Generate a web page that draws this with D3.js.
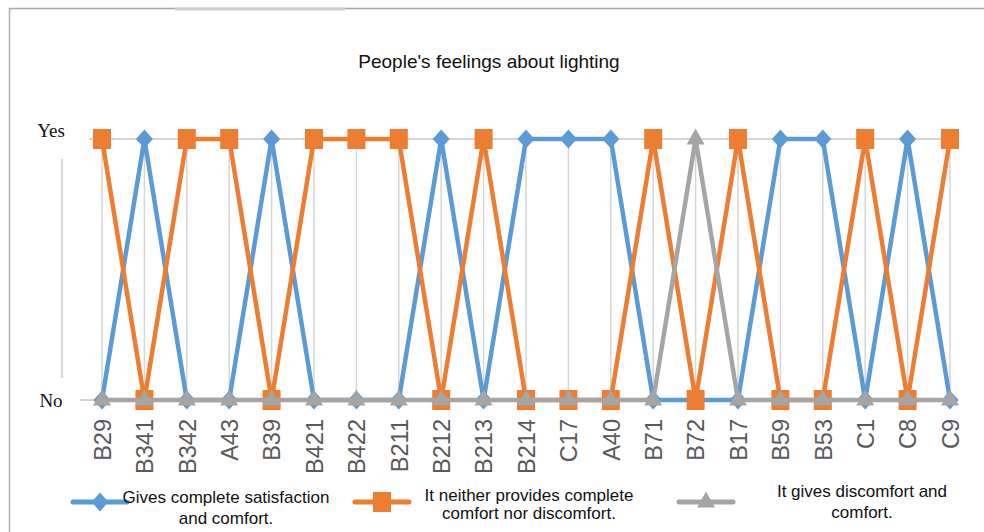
<!DOCTYPE html>
<html>
<head>
<meta charset="utf-8">
<script src="https://cdn.jsdelivr.net/npm/d3@7/dist/d3.min.js"></script>
<style>
  html, body { margin: 0; padding: 0; background: #fff; }
  svg { display: block; }
</style>
</head>
<body>
<svg id="chart" width="984" height="532"></svg>
<script>
// Lighting survey: one answer per location (1 = Yes, 0 = No)
const categories = ["B29","B341","B342","A43","B39","B421","B422","B211","B212","B213","B214","C17","A40","B71","B72","B17","B59","B53","C1","C8","C9"];
const satisfied  = [0,1,0,0,1,0,0,0,1,0,1,1,1,0,0,0,1,1,0,1,0];
const neutral    = [1,0,1,1,0,1,1,1,0,1,0,0,0,1,0,1,0,0,1,0,1];
const discomfort = [0,0,0,0,0,0,0,0,0,0,0,0,0,0,1,0,0,0,0,0,0];
const yTickLabels = ["No", "Yes"];
const seriesNames = [
  ["Gives complete satisfaction", "and comfort."],
  ["It neither provides complete", "comfort nor discomfort."],
  ["It gives discomfort and", "comfort."]
];

const colors = { blue: "#5B9BD5", orange: "#ED7D31", gray: "#A5A5A5" };
const series = [
  { values: satisfied,  color: colors.blue,   marker: "diamond",  name: seriesNames[0] },
  { values: neutral,    color: colors.orange, marker: "square",   name: seriesNames[1] },
  { values: discomfort, color: colors.gray,   marker: "triangle", name: seriesNames[2] }
];

const svg = d3.select("#chart");

// outer frame
svg.append("line").attr("x1", 9).attr("x2", 984).attr("y1", 8.5).attr("y2", 8.5)
  .attr("stroke", "#a6a6a6").attr("stroke-width", 1.5);
svg.append("line").attr("x1", 175).attr("x2", 345).attr("y1", 9).attr("y2", 9)
  .attr("stroke", "#d0d0d0").attr("stroke-width", 3);
svg.append("line").attr("x1", 9.5).attr("x2", 9.5).attr("y1", 8).attr("y2", 532)
  .attr("stroke", "#b0b0b0").attr("stroke-width", 1.5);

const x = d3.scalePoint().domain(categories).range([102, 950]);
const y = d3.scaleLinear().domain([0, 1]).range([400, 139]);

// title
svg.append("text").attr("x", 489).attr("y", 68)
  .attr("text-anchor", "middle")
  .attr("font-family", "Liberation Sans, Arial, sans-serif")
  .attr("font-size", 19).attr("fill", "#111")
  .text("People's feelings about lighting");

// vertical gridlines
svg.append("g").selectAll("line").data(categories).join("line")
  .attr("x1", d => x(d)).attr("x2", d => x(d))
  .attr("y1", y(1)).attr("y2", y(0))
  .attr("stroke", "#d6d6d6").attr("stroke-width", 1.5);

// horizontal gridlines
svg.append("line").attr("x1", 89).attr("x2", 957).attr("y1", y(1)).attr("y2", y(1))
  .attr("stroke", "#d6d6d6").attr("stroke-width", 2);
svg.append("line").attr("x1", 80).attr("x2", 957).attr("y1", y(0)).attr("y2", y(0))
  .attr("stroke", "#d6d6d6").attr("stroke-width", 2);

// value axis line
svg.append("line").attr("x1", 62).attr("x2", 62).attr("y1", 159).attr("y2", 378)
  .attr("stroke", "#c8c8c8").attr("stroke-width", 1.5);

// y tick labels
const yAxis = d3.axisLeft(y).tickValues([0, 1]).tickSize(0)
  .tickFormat(d => yTickLabels[d]);
const gy = svg.append("g").attr("transform", "translate(51,0)").call(yAxis);
gy.select(".domain").remove();
gy.selectAll("text")
  .attr("text-anchor", "middle").attr("x", 0)
  .attr("font-family", "Liberation Serif, Times New Roman, serif")
  .attr("font-size", 19).attr("fill", "#111");
gy.selectAll(".tick").filter(d => d === 1).select("text").attr("dy", "-0.15em");

// x tick labels (rotated)
const xAxis = d3.axisBottom(x).tickSize(0);
const gx = svg.append("g").attr("transform", `translate(0,${y(0)})`).call(xAxis);
gx.select(".domain").remove();
gx.selectAll("text")
  .attr("transform", "rotate(-90)")
  .attr("text-anchor", "end")
  .attr("x", -19).attr("y", 0).attr("dy", "0.35em")
  .attr("font-family", "Liberation Sans, Arial, sans-serif")
  .attr("font-size", 23.5).attr("fill", "#595959");

// marker shapes
function markerPath(type) {
  if (type === "diamond") return "M0,-9.5L8.5,0L0,9.5L-8.5,0Z";
  if (type === "square") return "M-9,-10H9V10H-9Z";
  return "M0,-10.5L9,5.5H-9Z";
}

const line = d3.line().x((d, i) => x(categories[i])).y(d => y(d));

series.forEach(s => {
  const g = svg.append("g");
  g.append("path").datum(s.values)
    .attr("d", line).attr("fill", "none")
    .attr("stroke", s.color).attr("stroke-width", 4.5)
    .attr("stroke-linejoin", "round");
  g.selectAll("path.m").data(s.values).join("path").attr("class", "m")
    .attr("transform", (d, i) => `translate(${x(categories[i])},${y(d)})`)
    .attr("d", markerPath(s.marker))
    .attr("fill", s.color);
});

// legend
const legendItems = [
  { cx: 100, tx: 226, ty: [503, 524] },
  { cx: 382, tx: 529, ty: [501, 519] },
  { cx: 706, tx: 862, ty: [497, 518] }
];
series.forEach((s, i) => {
  const L = legendItems[i];
  const g = svg.append("g");
  g.append("line").attr("x1", L.cx - 27).attr("x2", L.cx + 27)
    .attr("y1", 502).attr("y2", 502)
    .attr("stroke", s.color).attr("stroke-width", 5).attr("stroke-linecap", "round");
  g.append("path").attr("transform", `translate(${L.cx},502)`)
    .attr("d", markerPath(s.marker)).attr("fill", s.color);
  s.name.forEach((t, j) => {
    g.append("text").attr("x", L.tx).attr("y", L.ty[j])
      .attr("text-anchor", "middle")
      .attr("font-family", "Liberation Sans, Arial, sans-serif")
      .attr("font-size", 17).attr("fill", "#111").text(t);
  });
});
</script>
</body>
</html>
